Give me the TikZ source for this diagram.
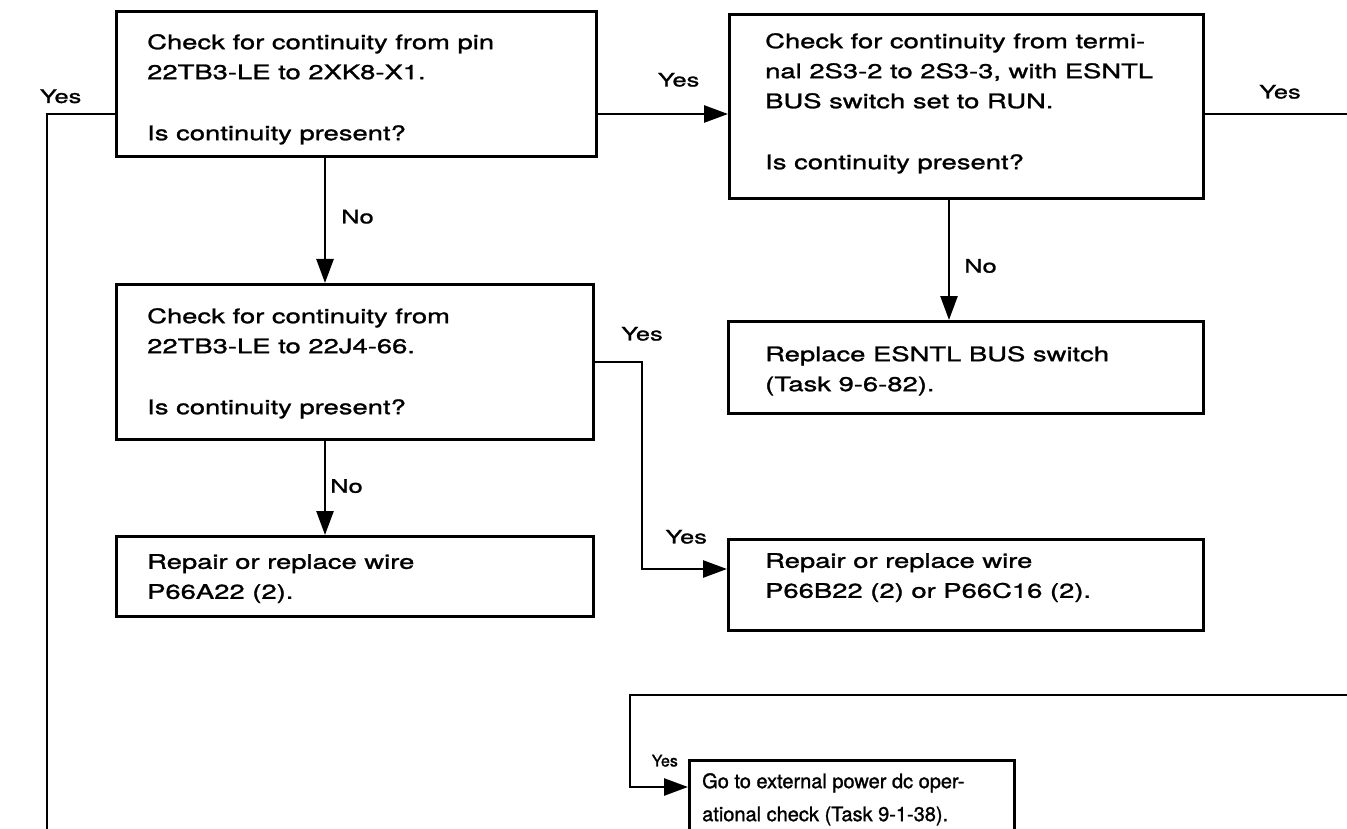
\documentclass[tikz,border=0pt]{standalone}
\usepackage{fontspec}
\setmainfont{TeX Gyre Heros}[FakeStretch=1.37, FakeBold=1.3]
\newfontfamily\narrowhv{TeX Gyre Heros}[FakeBold=1.3]
\usetikzlibrary{positioning,arrows.meta}

\begin{document}
\begin{tikzpicture}[
    x=1pt, y=1pt,
    box/.style={draw, line width=3pt, inner sep=0pt, anchor=north west},
    txt/.style={align=left, inner sep=0pt, font=\fontsize{20}{30}\selectfont},
    txtn/.style={align=left, inner sep=0pt, font=\narrowhv\fontsize{20}{33}\selectfont},
    lbl/.style={inner sep=0pt, font=\fontsize{18.5}{22}\selectfont},
    lbln/.style={inner sep=0pt, font=\narrowhv\fontsize{16}{18}\selectfont},
    ln/.style={line width=2.6pt},
    arr/.style={ln, -{Triangle[length=24pt, width=17pt]}},
  ]
  \useasboundingbox (0,0) rectangle (1347,-829);
  \clip (0,0) rectangle (1347,-829);

  % ===== boxes =====
  \node[box, minimum width=480, minimum height=145] (pin) at (115,-10) {};
  \node[txt, below right=24pt and 32pt of pin.north west] (pinT)
    {Check for continuity from pin\\ 22TB3-LE to 2XK8-X1.\\[31pt] Is continuity present?};

  \node[box, minimum width=474, minimum height=184] (sw) at (728,-13) {};
  \node[txt, below right=20pt and 37pt of sw.north west] (swT)
    {Check for continuity from termi-\\ nal 2S3-2 to 2S3-3, with ESNTL\\ BUS switch set to RUN.\\[31pt] Is continuity present?};

  \node[box, minimum width=477, minimum height=155] (jack) at (115,-283) {};
  \node[txt, below right=25pt and 32pt of jack.north west] (jackT)
    {Check for continuity from\\ 22TB3-LE to 22J4-66.\\[31pt] Is continuity present?};

  \node[box, minimum width=475, minimum height=92] (swrep) at (727,-320) {};
  \node[txt, below right=26pt and 38pt of swrep.north west] (swrepT)
    {Replace ESNTL BUS switch\\ (Task 9-6-82).};

  \node[box, minimum width=477, minimum height=80] (wA) at (115,-535) {};
  \node[txt, below right=19pt and 32pt of wA.north west] (wAT)
    {Repair or replace wire\\ P66A22 (2).};

  \node[box, minimum width=475, minimum height=91] (wBC) at (727,-538) {};
  \node[txt, below right=15pt and 38pt of wBC.north west] (wBCT)
    {Repair or replace wire\\ P66B22 (2) or P66C16 (2).};

  \node[box, minimum width=325, minimum height=80] (ext) at (688,-759) {};
  \node[txtn, below right=14pt and 14pt of ext.north west] (extT)
    {Go to external power dc oper-\\ ational check (Task 9-1-38).};

  % ===== bends and loose ends =====
  \coordinate (yesLvl) at (0,-114);
  \coordinate (colA) at (325,0);
  \coordinate (colB) at (949,0);
  \coordinate (outL) at (47,-840);
  \coordinate (outR) at (1352,-114);
  \coordinate (bendC) at (642,-569);
  \coordinate (loopIn) at (1352,-695);
  \coordinate (loopBend) at (630,-787);

  % ===== connectors =====
  \draw[ln] (pin.west |- yesLvl) -| (outL)
        node[lbl, above=9.5pt, pos=0.4] (yL) {Yes};
  \draw[arr] (pin.east |- yesLvl) -- (sw.west |- yesLvl)
        node[lbl, above=26pt, pos=0.62] (yAB) {Yes};
  \draw[ln] (sw.east |- yesLvl) -- (outR)
        node[lbl, above=14pt, pos=0.51] (yR) {Yes};
  \draw[arr] (pin.south -| colA) -- (jack.north -| colA)
        node[lbl, right=15pt, pos=0.47] (nA) {No};
  \draw[arr] (sw.south -| colB) -- (swrep.north -| colB)
        node[lbl, right=14pt, pos=0.55] (nB) {No};
  \draw[arr] (jack.south -| colA) -- (wA.north -| colA)
        node[lbl, right=4pt, pos=0.48] (nC) {No};
  \draw[arr] (jack.east) -| (bendC)
        node[lbl, above=20pt, pos=0.5] (yC) {Yes}
        -- (wBC.west |- bendC)
        node[lbl, above=24pt, pos=0.52] (yF) {Yes};
  \draw[arr] (loopIn) -| (loopBend) -- (ext.west |- loopBend)
        node[lbln, above=19pt, pos=0.6] (yG) {Yes};

\end{tikzpicture}
\end{document}
